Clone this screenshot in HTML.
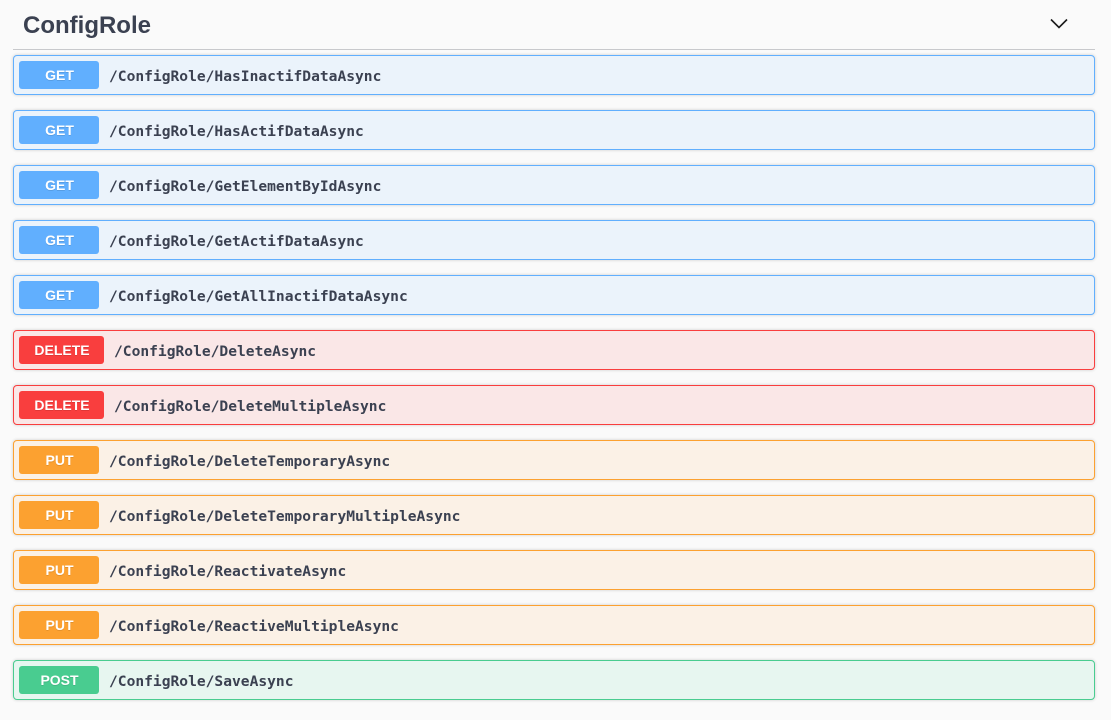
<!DOCTYPE html>
<html><head><meta charset="utf-8">
<style>
html,body{margin:0;padding:0;width:1111px;height:720px;overflow:hidden;background:#fafafa}
body{position:relative;font-family:"Liberation Sans",sans-serif;color:#3b4151}
h1{position:absolute;left:23px;top:12px;margin:0;font-size:24px;line-height:28px;font-weight:bold;color:#3b4151}
.hr{position:absolute;left:13px;top:49px;width:1082px;height:1px;background:#c8c9cc}
.r{position:absolute;left:13px;width:1080px;height:38px;border:1px solid;border-radius:4px;box-shadow:0 0 3px rgba(0,0,0,.19)}
.b{position:absolute;left:5px;top:5px;width:80px;height:28px;border-radius:3px;color:#fff;font-weight:bold;font-size:14px;line-height:28px;text-align:center;text-shadow:0 1px 0 rgba(0,0,0,.1);margin-top:0}
.b span{position:relative;top:0;left:.5px}
.p{position:absolute;left:95px;top:11px;font-family:"DejaVu Sans Mono","Liberation Mono",monospace;font-weight:bold;font-size:14.6px;line-height:20px;color:#3b4151;white-space:nowrap}
.g{background:#ebf3fb;border-color:#61affe}.g .b{background:#61affe}
.d{background:#fae7e7;border-color:#f93e3e}.d .b{background:#f93e3e;width:85px}.d .p{left:100px}
.u{background:#fbf1e6;border-color:#fca130}.u .b{background:#fca130}
.o{background:#e7f6f0;border-color:#49cc90}.o .b{background:#49cc90}
</style></head><body>
<h1>ConfigRole</h1>
<svg style="position:absolute;left:1050px;top:18px" width="20" height="14" viewBox="0 0 20 14"><path d="M1 1.5 L9 9.5 L17 1.5" fill="none" stroke="#1a1a1a" stroke-width="1.6"/></svg>
<div class="hr"></div>
<div class="r g" style="top:55px"><div class="b"><span>GET</span></div><div class="p">/ConfigRole/HasInactifDataAsync</div></div>
<div class="r g" style="top:110px"><div class="b"><span>GET</span></div><div class="p">/ConfigRole/HasActifDataAsync</div></div>
<div class="r g" style="top:165px"><div class="b"><span>GET</span></div><div class="p">/ConfigRole/GetElementByIdAsync</div></div>
<div class="r g" style="top:220px"><div class="b"><span>GET</span></div><div class="p">/ConfigRole/GetActifDataAsync</div></div>
<div class="r g" style="top:275px"><div class="b"><span>GET</span></div><div class="p">/ConfigRole/GetAllInactifDataAsync</div></div>
<div class="r d" style="top:330px"><div class="b"><span>DELETE</span></div><div class="p">/ConfigRole/DeleteAsync</div></div>
<div class="r d" style="top:385px"><div class="b"><span>DELETE</span></div><div class="p">/ConfigRole/DeleteMultipleAsync</div></div>
<div class="r u" style="top:440px"><div class="b"><span>PUT</span></div><div class="p">/ConfigRole/DeleteTemporaryAsync</div></div>
<div class="r u" style="top:495px"><div class="b"><span>PUT</span></div><div class="p">/ConfigRole/DeleteTemporaryMultipleAsync</div></div>
<div class="r u" style="top:550px"><div class="b"><span>PUT</span></div><div class="p">/ConfigRole/ReactivateAsync</div></div>
<div class="r u" style="top:605px"><div class="b"><span>PUT</span></div><div class="p">/ConfigRole/ReactiveMultipleAsync</div></div>
<div class="r o" style="top:660px"><div class="b"><span>POST</span></div><div class="p">/ConfigRole/SaveAsync</div></div>
</body></html>
